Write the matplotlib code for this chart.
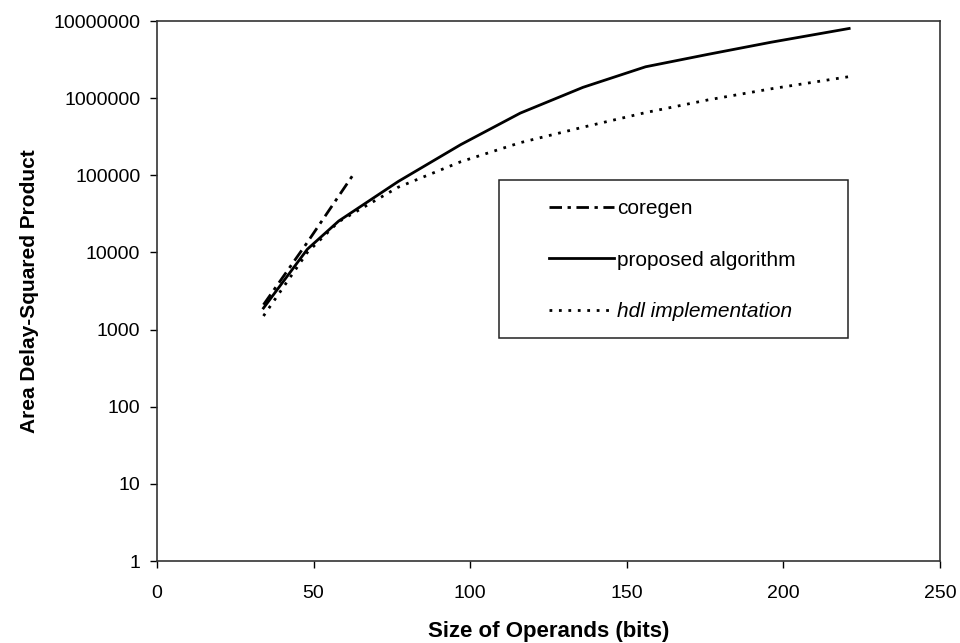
import matplotlib
matplotlib.use("Agg")
import matplotlib.pyplot as plt
from matplotlib.patches import Rectangle
import numpy as np

plt.rcParams['font.family'] = ['Liberation Sans', 'DejaVu Sans']

# Data
coregen_x = [34, 48, 63]
coregen_y = [2100, 13500, 107000]

proposed_x = [34, 48, 58, 77, 97, 116, 136, 156, 176, 196, 221]
proposed_y = [1900, 11000, 25500, 83000, 250000, 640000, 1380000, 2550000, 3700000, 5300000, 8000000]

hdl_x = [34, 48, 58, 77, 97, 116, 136, 156, 176, 196, 221]
hdl_y = [1500, 10000, 25000, 70000, 150000, 265000, 420000, 650000, 950000, 1320000, 1900000]

x_ticks = [0, 50, 100, 150, 200, 250]
y_ticks = [1, 10, 100, 1000, 10000, 100000, 1000000, 10000000]
y_tick_labels = [str(v) for v in y_ticks]

fig = plt.figure(figsize=(9.6, 6.43), dpi=100)
ax = fig.add_axes([157/960, 1-561/643, (940-157)/960, (561-21)/643])

ax.plot(coregen_x, coregen_y, color='black', lw=2.0, linestyle=(0, (4.5, 2, 1.2, 2)), label='coregen')
ax.plot(proposed_x, proposed_y, color='black', lw=2.0, linestyle='-', label='proposed algorithm')
ax.plot(hdl_x, hdl_y, color='black', lw=2.0, linestyle=(0, (1, 2.4)), label='hdl implementation')

ax.set_yscale('log')
ax.set_xlim(0, 250)
ax.set_ylim(1, 10000000)
ax.set_xticks(x_ticks)
ax.set_xticklabels([str(v) for v in x_ticks])
ax.set_yticks(y_ticks)
ax.set_yticklabels(y_tick_labels)
ax.minorticks_off()
ax.tick_params(axis='both', direction='out', length=5, width=1, labelsize=14, colors='black')
ax.tick_params(axis='y', pad=7)
ax.tick_params(axis='x', pad=12)
for s in ax.spines.values():
    s.set_color('#333333')
    s.set_linewidth(1.2)

ax.set_xlabel('Size of Operands (bits)', fontsize=16, fontweight='bold', labelpad=14)
ax.set_ylabel('Area Delay-Squared Product', fontsize=15, fontweight='bold', labelpad=10)

# legend frame
x0 = (499-157)/783
x1 = (848-157)/783
y1 = (561-180)/540
y0 = (561-338)/540
ax.add_patch(Rectangle((x0, y0), x1-x0, y1-y0, transform=ax.transAxes, fill=False,
                       edgecolor='#222222', lw=1.1, zorder=5))
leg = ax.legend(loc='upper left', bbox_to_anchor=((549-157)/783, (561-199)/540),
                frameon=False, fontsize=15, borderpad=0, borderaxespad=0,
                handlelength=3.1, handletextpad=0.15, labelspacing=1.57)
for t in leg.get_texts():
    if t.get_text() == 'hdl implementation':
        t.set_fontstyle('italic')

fig.savefig('out.png', dpi=100)
